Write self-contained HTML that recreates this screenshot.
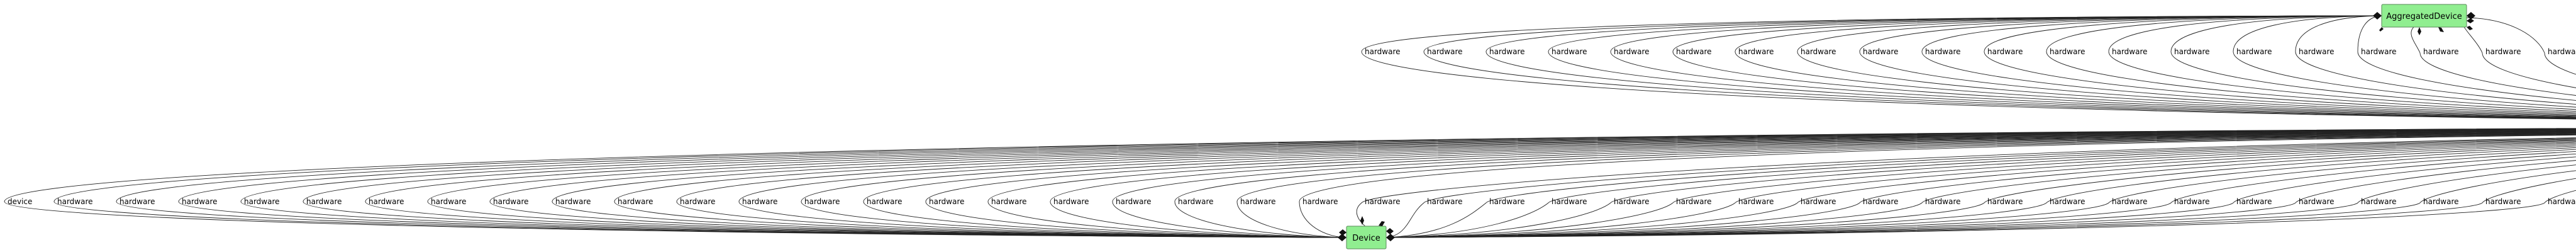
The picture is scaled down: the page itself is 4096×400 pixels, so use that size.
<!DOCTYPE html>
<html><head><meta charset="utf-8"><style>
html,body{margin:0;padding:0;background:#fff;width:4096px;height:400px;overflow:hidden}
svg{display:block}
text{font-family:"DejaVu Sans","Liberation Sans",sans-serif;font-size:12px;fill:#000}
</style></head><body>
<svg id="s" width="4096" height="400" xmlns="http://www.w3.org/2000/svg">
<g id="edges" fill="none" stroke="#222" stroke-width="0.9"></g>
<g id="labels">
<text x="12" y="324">device</text>
<text x="91" y="324">hardware</text><text x="190" y="324">hardware</text><text x="289" y="324">hardware</text><text x="388" y="324">hardware</text><text x="487" y="324">hardware</text><text x="586" y="324">hardware</text><text x="685" y="324">hardware</text><text x="784" y="324">hardware</text><text x="883" y="324">hardware</text><text x="982" y="324">hardware</text><text x="1081" y="324">hardware</text><text x="1180" y="324">hardware</text><text x="1279" y="324">hardware</text><text x="1378" y="324">hardware</text><text x="1477" y="324">hardware</text><text x="1576" y="324">hardware</text><text x="1675" y="324">hardware</text><text x="1774" y="324">hardware</text><text x="1873" y="324">hardware</text><text x="1972" y="324">hardware</text><text x="2071" y="324">hardware</text><text x="2170" y="324">hardware</text><text x="2269" y="324">hardware</text><text x="2368" y="324">hardware</text><text x="2467" y="324">hardware</text><text x="2566" y="324">hardware</text><text x="2665" y="324">hardware</text><text x="2764" y="324">hardware</text><text x="2863" y="324">hardware</text><text x="2962" y="324">hardware</text><text x="3061" y="324">hardware</text><text x="3160" y="324">hardware</text><text x="3259" y="324">hardware</text><text x="3358" y="324">hardware</text><text x="3457" y="324">hardware</text><text x="3556" y="324">hardware</text><text x="3655" y="324">hardware</text><text x="3754" y="324">hardware</text><text x="3853" y="324">hardware</text><text x="3952" y="324">hardware</text><text x="4051" y="324">hardware</text>
<text x="2170" y="86">hardware</text><text x="2269" y="86">hardware</text><text x="2368" y="86">hardware</text><text x="2467" y="86">hardware</text><text x="2566" y="86">hardware</text><text x="2665" y="86">hardware</text><text x="2764" y="86">hardware</text><text x="2863" y="86">hardware</text><text x="2962" y="86">hardware</text><text x="3061" y="86">hardware</text><text x="3160" y="86">hardware</text><text x="3259" y="86">hardware</text><text x="3358" y="86">hardware</text><text x="3457" y="86">hardware</text><text x="3556" y="86">hardware</text><text x="3655" y="86">hardware</text><text x="3754" y="86">hardware</text><text x="3853" y="86">hardware</text><text x="3952" y="86">hardware</text><text x="4051" y="86">hardware</text>
</g>
<rect x="2141" y="359" width="63" height="36" rx="2" fill="#90ee90" stroke="#5a8a5a" stroke-width="1"/>
<text x="2172.5" y="382" text-anchor="middle" style="font-size:13px">Device</text>
<rect x="3787" y="7" width="135" height="36" rx="2" fill="#90ee90" stroke="#5a8a5a" stroke-width="1"/>
<text x="3854.5" y="30" text-anchor="middle" style="font-size:13px">AggregatedDevice</text>
<g fill="#111">
<polygon points="2141,377 2134,371 2127,377 2134,383"/>
<polygon points="2141,369 2135,364 2129,369 2135,374"/>
<polygon points="2204,377 2211,371 2218,377 2211,383"/>
<polygon points="2204,367 2210,362 2216,367 2210,372"/>
<polygon points="2166,357 2163,350 2166,343 2169,350"/>
<polygon points="2192,358 2197,351 2202,352 2198,359"/>
<polygon points="3787,25 3780,19 3773,25 3780,31"/>
<polygon points="3922,25 3929,19 3936,25 3929,31"/>
<polygon points="3922,33 3928,29 3934,33 3928,37"/>
<polygon points="3787,43 3783,48 3785,50 3790,46"/>
<polygon points="3847,43 3844,50 3847,56 3850,50"/>
<polygon points="3877,43 3880,50 3886,51 3882,44"/>
<polygon points="3922,43 3927,48 3932,46 3927,41"/>
</g>
</svg>
<script>
var g=document.getElementById('edges'),d=[],H=5200;
function P(s){d.push('<path d="'+s+'"/>');}
var xs=[12];for(var k=0;k<41;k++)xs.push(91+99*k);
xs.forEach(function(t,i){
  var lx=t-5, c=lx+(H-lx)*0.35, hy=200+i*0.3;
  if(lx<2141){
    P('M'+H+','+hy+' C'+c+','+(hy+5)+' '+lx+',262 '+lx+',320 C'+lx+',350 '+(lx+(2137-lx)*0.45)+','+(372+i*0.1)+' 2137,377');
  } else {
    P('M'+H+','+hy+' C'+c+','+(hy+5)+' '+(lx+20)+',295 '+lx+',322 C'+(lx-25)+',342 '+(lx-(lx-2205)*0.4)+',372 2205,377');
  }
});
for(var k=0;k<20;k++){
  var t=2170+99*k, lx=t-5, c=lx+(H-lx)*0.35, hy=197+k*0.2;
  if(lx<3787){
    P('M'+H+','+hy+' C'+c+','+(hy-3)+' '+lx+',140 '+lx+',82 C'+lx+',45 '+(lx+(3787-lx)*0.4)+',26 3787,25');
  } else {
    P('M'+H+','+hy+' C'+c+','+(hy-3)+' '+lx+',140 '+lx+',84 C'+(lx-10)+',60 '+(lx-50)+',30 3922,28');
  }
}
g.innerHTML=d.join('');
</script>
</body></html>
